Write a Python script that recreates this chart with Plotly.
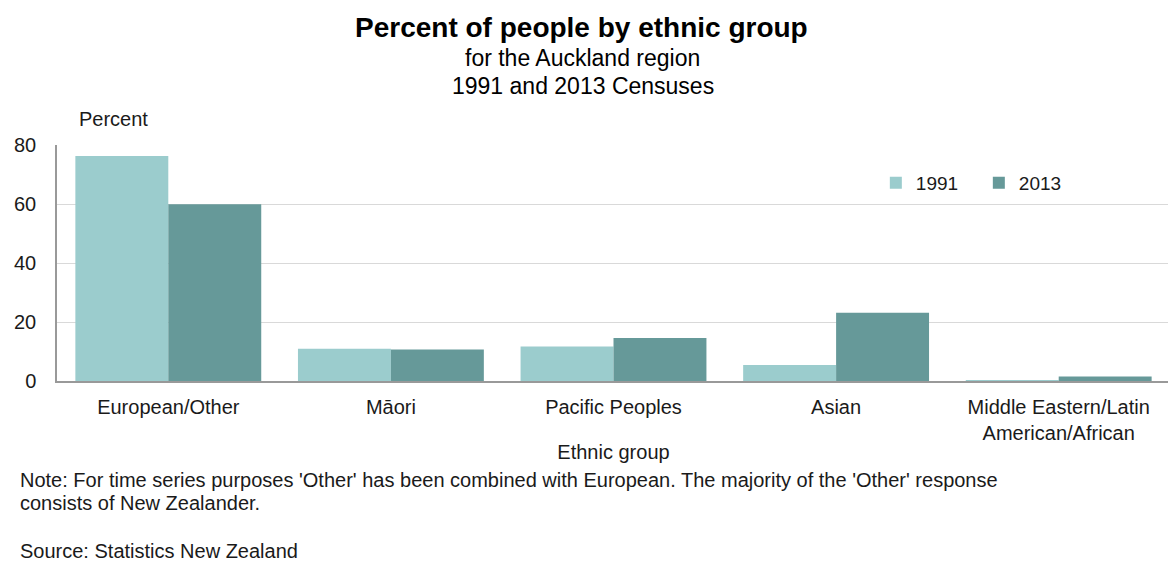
import plotly.graph_objects as go

categories = ["European/Other", "Māori", "Pacific Peoples", "Asian", "Middle Eastern/Latin<br>American/African"]
values_1991 = [76.3, 10.9, 11.7, 5.4, 0.3]
values_2013 = [59.9, 10.7, 14.6, 23.1, 1.5]
series_names = ["1991", "2013"]
colors = ["#9bcccd", "#669999"]

FONT = "Liberation Sans, Arial, sans-serif"

fig = go.Figure()
for name, vals, col in zip(series_names, [values_1991, values_2013], colors):
    fig.add_trace(go.Bar(x=categories, y=vals, name=name, marker=dict(color=col, line=dict(width=0))))

# page has an 8px body margin, so the figure is drawn 8px smaller and offset
fig.update_layout(
    width=1168, height=554,
    margin=dict(l=46, r=6, t=137, b=181),
    paper_bgcolor="white", plot_bgcolor="white",
    barmode="group", bargap=0.165, bargroupgap=0,
    font=dict(family=FONT, color="#1a1a1a", size=20),
    showlegend=True,
    legend=dict(orientation="h", x=0.7357, y=0.839, xanchor="left", yanchor="middle",
                font=dict(size=19), bgcolor="rgba(0,0,0,0)", entrywidth=58, entrywidthmode="pixels",
                traceorder="normal"),
    xaxis=dict(showline=True, linecolor="#999999", linewidth=1.5, ticks="", tickfont=dict(size=20),
               ticklabelstandoff=7,
               title=dict(text="Ethnic group", font=dict(size=20), standoff=2)),
    yaxis=dict(range=[0, 80], tickvals=[0, 20, 40, 60, 80], showgrid=True, gridcolor="#d9d9d9",
               gridwidth=1.3, showline=True, linecolor="#999999", linewidth=1.5, ticks="",
               tickfont=dict(size=20), zeroline=False, ticklabelstandoff=15),
)

# place text using page pixel coords, converted relative to the plot area
def add_px(text, x, y, size, anchor="left", color="#1a1a1a"):
    px0, px1 = 54, 1170
    py0, py1 = 145, 381
    fig.add_annotation(text=text, x=(x - px0) / (px1 - px0), y=(py1 - y) / (py1 - py0),
                       xref="paper", yref="paper", xanchor=anchor, yanchor="middle",
                       showarrow=False, font=dict(size=size, color=color, family=FONT))

add_px("<b>Percent of people by ethnic group</b>", 580, 27, 28, "center", "#000000")
add_px("for the Auckland region", 581, 58, 23, "center", "#000000")
add_px("1991 and 2013 Censuses", 581, 86, 23, "center", "#000000")
add_px("Percent", 74, 119, 20, "left")
add_px("Note: For time series purposes 'Other' has been combined with European. The majority of the 'Other' response", 15, 480, 20, "left")
add_px("consists of New Zealander.", 15, 503, 20, "left")
add_px("Source: Statistics New Zealand", 15, 551, 20, "left")

fig.write_html("out.html")
